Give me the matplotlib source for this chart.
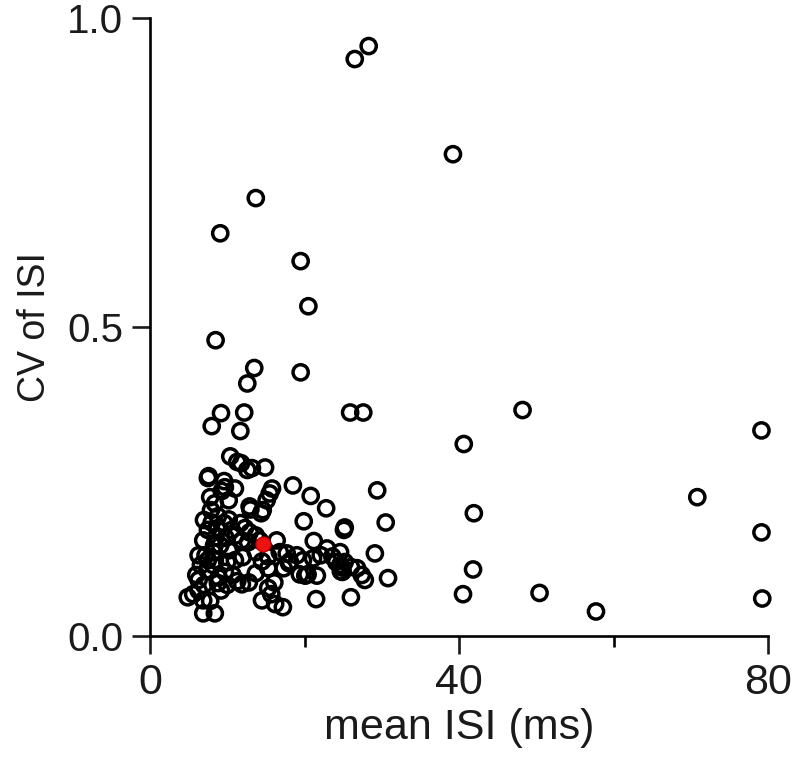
import matplotlib

matplotlib.use("Agg")
import matplotlib.pyplot as plt
import numpy as np

# mean ISI (ms) and CV of ISI for each cell
MEAN_ISI = [
    26.5, 28.3, 39.2, 13.7, 9.1, 19.5, 20.5, 8.5, 13.5, 19.5, 12.6,
    25.9, 27.6, 48.2, 40.6, 79.1, 70.8, 79.1, 79.2, 57.7, 50.4, 40.5,
    41.8, 41.9, 29.4, 30.5, 30.8, 29.1, 20.8, 22.8, 18.5, 19.9, 21.2,
    21.5, 26.0,
    9.2, 8.0, 11.7, 12.2, 10.4, 11.3, 11.8, 12.6, 13.2, 14.9, 7.5,
    7.6, 9.6, 9.3, 7.8, 9.7, 10.2, 8.4, 11.0, 15.5, 15.8, 15.1, 14.6,
    14.4, 7.9, 7.0, 8.8, 8.0, 10.2, 11.7, 12.3, 12.9, 13.7, 14.2, 16.4,
    7.5, 8.5, 6.9, 8.3, 6.3, 7.2, 8.2, 10.2, 11.9, 12.7, 10.0, 11.0,
    12.0, 13.7, 14.5, 15.3, 16.8, 17.7, 18.1, 19.0, 19.4, 17.3, 18.0,
    22.1, 22.9, 23.6, 24.1, 24.6, 25.2, 26.0, 26.8, 27.4, 27.8, 25.1,
    25.2, 11.9, 12.8, 13.7, 15.3, 15.3, 16.1, 15.7, 14.5, 16.2, 17.2,
    4.9, 5.6, 6.3, 6.9, 8.4, 6.9, 7.8, 6.0, 6.3, 7.0, 8.8, 9.2, 10.0,
    7.4, 8.2, 8.9, 9.7, 10.7, 11.3, 6.6, 7.5, 8.4, 9.1, 9.8, 8.8, 9.6,
    10.6, 11.1, 19.8, 21.1, 24.6, 24.9, 20.1, 20.4, 24.7, 24.9, 21.6,
    13.0, 12.9,
]
CV_ISI = [
    0.934, 0.955, 0.780, 0.709, 0.652, 0.607, 0.534, 0.479, 0.434, 0.427,
    0.409, 0.362, 0.362, 0.366, 0.311, 0.333, 0.225, 0.168, 0.061, 0.040,
    0.070, 0.068, 0.108, 0.199, 0.236, 0.184, 0.094, 0.134, 0.227, 0.207,
    0.244, 0.186, 0.154, 0.060, 0.063,
    0.361, 0.340, 0.332, 0.362, 0.291, 0.282, 0.280, 0.269, 0.272, 0.273,
    0.256, 0.259, 0.251, 0.235, 0.225, 0.241, 0.220, 0.215, 0.239, 0.231,
    0.239, 0.220, 0.204, 0.199, 0.204, 0.188, 0.194, 0.184, 0.189, 0.183,
    0.175, 0.168, 0.163, 0.155, 0.155, 0.172, 0.160, 0.155, 0.147, 0.131,
    0.131, 0.136, 0.139, 0.155, 0.152, 0.120, 0.123, 0.128, 0.136, 0.121,
    0.129, 0.136, 0.134, 0.121, 0.131, 0.100, 0.110, 0.118, 0.131, 0.142,
    0.129, 0.120, 0.136, 0.120, 0.112, 0.110, 0.099, 0.091, 0.172, 0.176,
    0.084, 0.087, 0.102, 0.110, 0.078, 0.087, 0.068, 0.058, 0.052, 0.047,
    0.063, 0.068, 0.074, 0.037, 0.037, 0.058, 0.057, 0.099, 0.091, 0.083,
    0.086, 0.074, 0.083, 0.107, 0.115, 0.095, 0.104, 0.099, 0.089, 0.115,
    0.123, 0.123, 0.147, 0.159, 0.175, 0.183, 0.172, 0.163, 0.123, 0.126,
    0.115, 0.111, 0.098, 0.100, 0.105, 0.104, 0.098, 0.205, 0.210,
]
HIGHLIGHT_ISI = [14.6]
HIGHLIGHT_CV = [0.149]

X_TICKS = [0, 40, 80]
X_MINOR_TICKS = [20, 60]
Y_TICKS = [0.0, 0.5, 1.0]
Y_TICK_LABELS = ["0.0", "0.5", "1.0"]

plt.rcParams["font.family"] = ["Liberation Sans", "DejaVu Sans"]

figure = plt.figure(figsize=(7.93, 7.61), dpi=100)
axis = figure.add_axes([0.189, 0.164, 0.780, 0.812])

axis.scatter(
    MEAN_ISI, CV_ISI, s=120, facecolors="none", edgecolors="black",
    linewidths=2.5, zorder=3, clip_on=False,
)
axis.scatter(
    HIGHLIGHT_ISI, HIGHLIGHT_CV, s=115, facecolors="#ee1111",
    edgecolors="#cc0000", linewidths=1.0, zorder=4,
)

axis.set_xlim(0, 80)
axis.set_ylim(0, 1.0)
axis.set_xticks(X_TICKS)
axis.set_xticks(X_MINOR_TICKS, minor=True)
axis.set_yticks(Y_TICKS, Y_TICK_LABELS)
for side in ("top", "right"):
    axis.spines[side].set_visible(False)
for side in ("left", "bottom"):
    axis.spines[side].set_linewidth(1.9)
axis.tick_params(which="major", direction="out", length=13, width=1.9,
                 colors="#1a1a1a", pad=6)
axis.tick_params(which="minor", direction="out", length=8, width=1.9)
axis.tick_params(axis="y", labelsize=29)
for label in axis.get_xticklabels():
    label.set_fontsize(31)
axis.set_xlabel("mean ISI (ms)", fontsize=31, color="#1a1a1a", labelpad=4)
axis.set_ylabel("CV of ISI", fontsize=27, color="#1a1a1a", labelpad=10)

figure.savefig("out.png", dpi=100)
